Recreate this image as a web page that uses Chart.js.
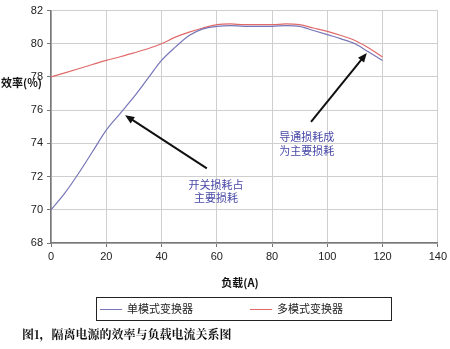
<!DOCTYPE html>
<html>
<head>
<meta charset="utf-8">
<script src="https://cdn.jsdelivr.net/npm/chart.js@4"></script>
<style>
  html, body { margin: 0; padding: 0; background: #fff; }
  #wrap { width: 450px; height: 349px; position: relative; }
</style>
</head>
<body>
<div id="wrap"><canvas id="effChart" width="450" height="349"></canvas></div>
<script>
// Data
const loads = [0, 5, 10, 15, 20, 25, 30, 35, 40, 45, 50, 55, 60, 65, 70, 75, 80, 85, 90, 95, 100, 105, 110, 115, 120];
const singleMode = [70, 71, 72.2, 73.5, 74.8, 75.8, 76.8, 77.9, 79, 79.8, 80.5, 80.9, 81.05, 81.1, 81.05, 81.05, 81.05, 81.1, 81.05, 80.8, 80.55, 80.3, 80.0, 79.5, 79.0];
const multiMode = [78, 78.25, 78.5, 78.75, 79, 79.22, 79.45, 79.7, 80, 80.4, 80.7, 80.95, 81.15, 81.2, 81.15, 81.15, 81.15, 81.2, 81.15, 80.95, 80.75, 80.5, 80.2, 79.75, 79.2];
const seriesNames = ['单模式变换器', '多模式变换器'];
const xTicks = [0, 20, 40, 60, 80, 100, 120, 140];
const yTicks = [68, 70, 72, 74, 76, 78, 80, 82];

// annotations, in data units
const arrows = [
    { from: [56.4, 72.5], to: [26.8, 75.7] },
    { from: [94.1, 75.3], to: [114.3, 79.45] }
];
const notes = [
    { x: 59.7, y: 71.5, text: '开关损耗占' },
    { x: 59.7, y: 70.73, text: '主要损耗' },
    { x: 92.6, y: 74.4, text: '导通损耗成' },
    { x: 92.6, y: 73.58, text: '为主要损耗' }
];

const blue = '#7676b8';
const red = '#e06a6a';
const tickFont = { family: 'Liberation Sans, Arial, sans-serif', size: 11 };

function toPoints(ys) {
    return loads.map((x, i) => ({ x: x, y: ys[i] }));
}

const extras = {
    id: 'extras',
    afterDatasetsDraw(chart) {
        const ctx = chart.ctx;
        const xs = chart.scales.x, ys = chart.scales.y;
        ctx.save();

        // arrows
        ctx.strokeStyle = '#111';
        ctx.fillStyle = '#111';
        ctx.lineWidth = 2;
        arrows.forEach(a => {
            const x1 = xs.getPixelForValue(a.from[0]), y1 = ys.getPixelForValue(a.from[1]);
            const x2 = xs.getPixelForValue(a.to[0]), y2 = ys.getPixelForValue(a.to[1]);
            const ang = Math.atan2(y2 - y1, x2 - x1);
            ctx.beginPath();
            ctx.moveTo(x1, y1);
            ctx.lineTo(x2 - 6 * Math.cos(ang), y2 - 6 * Math.sin(ang));
            ctx.stroke();
            ctx.beginPath();
            ctx.moveTo(x2, y2);
            ctx.lineTo(x2 - 10 * Math.cos(ang - 0.4), y2 - 10 * Math.sin(ang - 0.4));
            ctx.lineTo(x2 - 10 * Math.cos(ang + 0.4), y2 - 10 * Math.sin(ang + 0.4));
            ctx.closePath();
            ctx.fill();
        });

        // notes
        ctx.fillStyle = '#4848a8';
        ctx.font = '11px "Noto Sans CJK SC", sans-serif';
        ctx.textAlign = 'center';
        ctx.textBaseline = 'middle';
        notes.forEach(n => {
            ctx.fillText(n.text, xs.getPixelForValue(n.x), ys.getPixelForValue(n.y));
        });

        // axis titles
        ctx.fillStyle = '#111';
        ctx.font = 'bold 11px "Noto Sans CJK SC", sans-serif';
        ctx.textAlign = 'left';
        ctx.fillText('效率(%)', 1, 83);
        ctx.textAlign = 'center';
        ctx.fillText('负载(A)', 240, 283);

        // legend box
        ctx.strokeStyle = '#222';
        ctx.lineWidth = 1;
        ctx.strokeRect(96.5, 297.5, 295, 23);
        ctx.font = '11px "Noto Sans CJK SC", sans-serif';
        ctx.textAlign = 'left';
        const items = [[100, blue], [250, red]];
        items.forEach((it, i) => {
            ctx.strokeStyle = it[1];
            ctx.beginPath();
            ctx.moveTo(it[0], 309.5);
            ctx.lineTo(it[0] + 22, 309.5);
            ctx.stroke();
            ctx.fillStyle = '#222';
            ctx.fillText(seriesNames[i], it[0] + 27, 309);
        });

        // caption
        ctx.fillStyle = '#111';
        ctx.font = 'bold 12px "Noto Serif CJK SC", "Noto Sans CJK SC", serif';
        ctx.fillText('图1，隔离电源的效率与负载电流关系图', 22, 334);
        ctx.restore();
    }
};

new Chart(document.getElementById('effChart'), {
    type: 'line',
    data: {
        datasets: [
            { label: seriesNames[0], data: toPoints(singleMode), borderColor: blue, borderWidth: 1.2, pointRadius: 0, tension: 0.4, cubicInterpolationMode: 'monotone' },
            { label: seriesNames[1], data: toPoints(multiMode), borderColor: red, borderWidth: 1.2, pointRadius: 0, tension: 0.4, cubicInterpolationMode: 'monotone' }
        ]
    },
    options: {
        responsive: false,
        animation: false,
        layout: { padding: { top: 7, right: 12, left: 0, bottom: 0 } },
        plugins: { legend: { display: false }, tooltip: { enabled: false } },
        scales: {
            x: {
                type: 'linear',
                min: 0, max: 140,
                afterBuildTicks: s => { s.ticks = xTicks.map(v => ({ value: v })); },
                afterFit: s => { s.height = 106; },
                grid: { color: '#cfcfcf', tickColor: '#777', tickLength: 4 },
                border: { color: '#777', width: 1.5 },
                ticks: { color: '#222', font: tickFont, padding: 3, maxRotation: 0 }
            },
            y: {
                min: 68, max: 82,
                afterBuildTicks: s => { s.ticks = yTicks.map(v => ({ value: v })); },
                afterFit: s => { s.width = 51; },
                grid: { color: '#cfcfcf', tickColor: '#777', tickLength: 4 },
                border: { color: '#777', width: 1.5 },
                ticks: { color: '#222', font: tickFont, padding: 4 }
            }
        }
    },
    plugins: [extras]
});
</script>
</body>
</html>
